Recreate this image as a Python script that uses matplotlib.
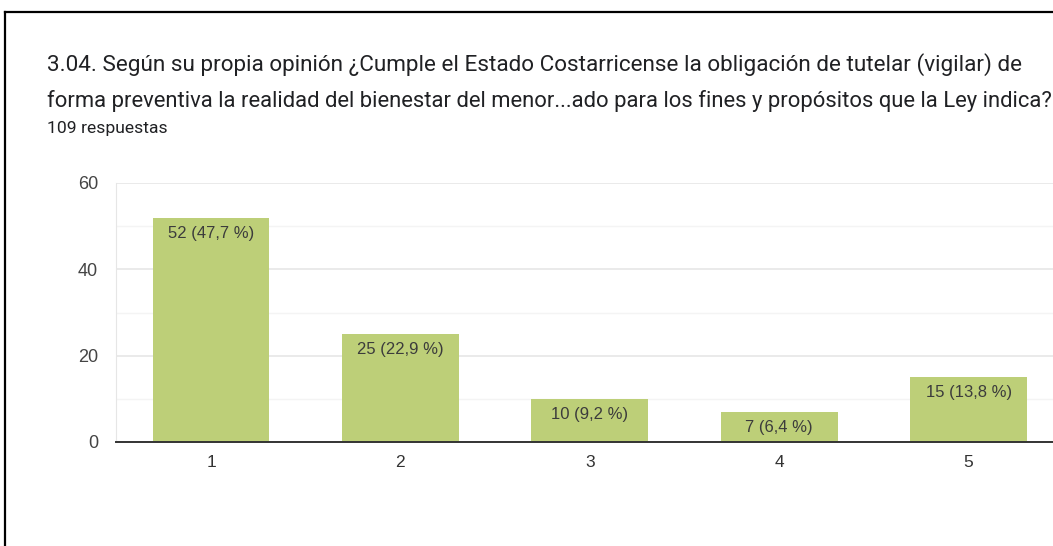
import matplotlib.pyplot as plt
from matplotlib.lines import Line2D

categories = ["1", "2", "3", "4", "5"]
counts = [52, 25, 10, 7, 15]
labels = ["52 (47,7 %)", "25 (22,9 %)", "10 (9,2 %)", "7 (6,4 %)", "15 (13,8 %)"]

title_1 = "3.04. Según su propia opinión ¿Cumple el Estado Costarricense la obligación de tutelar (vigilar) de"
title_2 = "forma preventiva la realidad del bienestar del menor...ado para los fines y propósitos que la Ley indica?"
subtitle = "109 respuestas"

W, H = 1053, 546
fig = plt.figure(figsize=(W / 100, H / 100), dpi=100)

# axes: first category at x=211, spacing ~189.4px, top (60) at y=183, zero at y=442
step = 189.4
left, right = (211 - step / 2) / W, (211 + step * 4.5) / W
bottom, top = 1 - 442 / H, 1 - 183 / H
ax = fig.add_axes([left, bottom, right - left, top - bottom])

x = range(len(categories))
bars = ax.bar(x, counts, width=0.617, color="#bdcf78", zorder=2)
for b, lab in zip(bars, labels):
    ax.text(b.get_x() + b.get_width() / 2, b.get_height() - 3.6, lab,
            ha="center", va="center", fontsize=12, color="#3c3c3c",
            family="Liberation Sans", zorder=3)

ax.set_xlim(-0.5, 4.5)
ax.set_ylim(0, 60)
ax.set_xticks(list(x))
ax.set_xticklabels(categories)
ax.set_yticks([0, 20, 40, 60])
ax.set_yticks([10, 30, 50], minor=True)
ax.grid(axis="y", which="major", color="#e6e6e6", linewidth=1.2, zorder=0)
ax.grid(axis="y", which="minor", color="#f4f4f4", linewidth=1.0, zorder=0)
ax.tick_params(which="both", length=0)
ax.tick_params(axis="y", pad=13, labelsize=13, labelcolor="#444444")
ax.tick_params(axis="x", pad=9.5, labelsize=12.5, labelcolor="#333333")
for t in ax.get_xticklabels() + ax.get_yticklabels():
    t.set_family("Liberation Sans")
for s in ["top", "right"]:
    ax.spines[s].set_visible(False)
ax.spines["left"].set_color("#e6e6e6")
ax.spines["bottom"].set_color("#333333")
ax.spines["bottom"].set_linewidth(1.4)
ax.spines["bottom"].set_zorder(4)

fig.text(47 / W, 1 - 65 / H, title_1, fontsize=16.2, family="Roboto",
         color="#202124", va="center", ha="left")
fig.text(47 / W, 1 - 101 / H, title_2, fontsize=15.8, family="Roboto",
         color="#202124", va="center", ha="left")
fig.text(47 / W, 1 - 129 / H, subtitle, fontsize=12.6, family="Roboto",
         color="#202124", va="center", ha="left")

# screenshot frame (top and left edges)
fig.add_artist(Line2D([5 / W, 1], [1 - 12 / H, 1 - 12 / H], color="black", lw=1.6))
fig.add_artist(Line2D([5 / W, 5 / W], [0, 1 - 12 / H], color="black", lw=1.6))

fig.savefig("out.png", dpi=100)
